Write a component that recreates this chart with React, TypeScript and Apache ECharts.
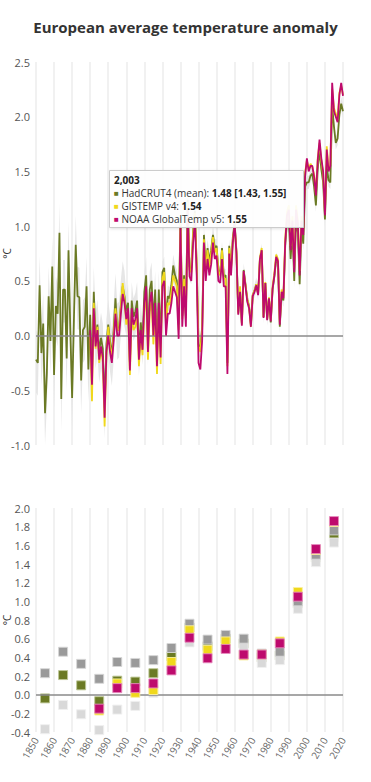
import React, { useEffect, useRef } from "react";
import * as echarts from "echarts";

// ---------- Annual data (top chart) ----------
const years = [
  1850, 1851, 1852, 1853, 1854, 1855, 1856, 1857, 1858, 1859,
  1860, 1861, 1862, 1863, 1864, 1865, 1866, 1867, 1868, 1869,
  1870, 1871, 1872, 1873, 1874, 1875, 1876, 1877, 1878, 1879,
  1880, 1881, 1882, 1883, 1884, 1885, 1886, 1887, 1888, 1889,
  1890, 1891, 1892, 1893, 1894, 1895, 1896, 1897, 1898, 1899,
  1900, 1901, 1902, 1903, 1904, 1905, 1906, 1907, 1908, 1909,
  1910, 1911, 1912, 1913, 1914, 1915, 1916, 1917, 1918, 1919,
  1920, 1921, 1922, 1923, 1924, 1925, 1926, 1927, 1928, 1929,
  1930, 1931, 1932, 1933, 1934, 1935, 1936, 1937, 1938, 1939,
  1940, 1941, 1942, 1943, 1944, 1945, 1946, 1947, 1948, 1949,
  1950, 1951, 1952, 1953, 1954, 1955, 1956, 1957, 1958, 1959,
  1960, 1961, 1962, 1963, 1964, 1965, 1966, 1967, 1968, 1969,
  1970, 1971, 1972, 1973, 1974, 1975, 1976, 1977, 1978, 1979,
  1980, 1981, 1982, 1983, 1984, 1985, 1986, 1987, 1988, 1989,
  1990, 1991, 1992, 1993, 1994, 1995, 1996, 1997, 1998, 1999,
  2000, 2001, 2002, 2003, 2004, 2005, 2006, 2007, 2008, 2009,
  2010, 2011, 2012, 2013, 2014, 2015, 2016, 2017, 2018, 2019,
  2020,
];

const hadMean = [
  -0.22, -0.25, 0.46, -0.16, 0.11, -0.71, -0.35, 0.36, -0.05, 0.63,
  -0.36, 0.27, 0.2, 0.94, -0.58, 0.42, 0.42, -0.21, 0.78, 0.05,
  -0.57, 0.15, 0.83, 0.36, 0.35, -0.41, 0.05, 0.08, 0.45, -0.31,
  0.19, -0.35, 0.4, -0.02, 0.1, -0.15, -0.02, -0.12, -0.66, -0.08,
  0.1, -0.05, -0.18, 0.05, 0.34, 0.06, 0.08, 0.28, 0.45, 0.36,
  0.22, 0.3, -0.25, 0.32, 0.17, 0.22, 0.32, -0.15, 0.12, -0.05,
  0.4, 0.55, -0.05, 0.42, 0.5, 0.12, 0.42, -0.16, 0.42, -0.08,
  0.58, 0.62, 0.12, 0.36, 0.34, 0.46, 0.64, 0.55, 0.5, 0.1,
  1.08, 0.18, 0.55, 0.18, 1.24, 0.63, 0.6, 0.95, 1.14, 0.64,
  -0.08, -0.12, 0.08, 0.92, 0.62, 0.8, 0.68, 0.78, 0.92, 0.8,
  0.82, 0.6, 0.56, 0.8, 0.54, 0.55, -0.25, 0.82, 0.62, 0.9,
  1.03, 0.77, 0.21, 0.42, 0.11, 0.6, 0.47, 0.33, 0.27, 0.1,
  0.37, 0.41, 0.47, 0.38, 0.7, 0.78, 0.17, 0.48, 0.15, 0.34,
  0.12, 0.42, 0.54, 0.7, 0.66, 0.08, 0.38, 0.32, 0.82, 1.05,
  1.06, 0.7, 0.97, 0.5, 1.06, 0.94, 0.47, 0.97, 0.84, 1.36,
  1.4, 1.4, 1.46, 1.48, 1.36, 1.19, 1.52, 1.7, 1.52, 1.4,
  1.06, 1.55, 1.42, 1.4, 2.1, 1.91, 1.76, 1.8, 2.02, 2.12,
  2.05,
];

const hadLower = [
  -0.52, -0.55, 0.16, -0.46, -0.19, -1.0, -0.65, 0.06, -0.35, 0.33,
  -0.66, -0.03, -0.1, 0.64, -0.88, 0.12, 0.12, -0.51, 0.48, -0.25,
  -0.87, -0.15, 0.53, 0.06, 0.05, -0.71, -0.25, -0.22, 0.15, -0.61,
  -0.09, -0.63, 0.12, -0.3, -0.18, -0.43, -0.3, -0.4, -0.94, -0.36,
  -0.18, -0.33, -0.46, -0.23, 0.06, -0.22, -0.2, 0.0, 0.17, 0.08,
  0.0, 0.08, -0.47, 0.1, -0.05, 0.0, 0.1, -0.37, -0.1, -0.27,
  0.18, 0.33, -0.27, 0.2, 0.28, -0.1, 0.2, -0.38, 0.2, -0.3,
  0.45, 0.49, -0.01, 0.23, 0.21, 0.33, 0.51, 0.42, 0.37, -0.03,
  0.95, 0.05, 0.42, 0.05, 1.11, 0.5, 0.47, 0.82, 1.01, 0.51,
  -0.18, -0.22, -0.02, 0.82, 0.52, 0.7, 0.58, 0.68, 0.82, 0.7,
  0.75, 0.53, 0.49, 0.73, 0.47, 0.48, -0.32, 0.75, 0.55, 0.83,
  0.97, 0.71, 0.15, 0.36, 0.05, 0.54, 0.41, 0.27, 0.21, 0.04,
  0.31, 0.35, 0.41, 0.32, 0.64, 0.72, 0.11, 0.42, 0.09, 0.28,
  0.06, 0.36, 0.48, 0.64, 0.6, 0.02, 0.32, 0.26, 0.76, 0.99,
  1.0, 0.64, 0.91, 0.44, 1.0, 0.88, 0.41, 0.91, 0.78, 1.3,
  1.34, 1.34, 1.4, 1.43, 1.3, 1.13, 1.46, 1.64, 1.46, 1.34,
  1.0, 1.49, 1.36, 1.34, 2.04, 1.85, 1.7, 1.74, 1.96, 2.06,
  1.99,
];

const hadUpper = [
  0.05, 0.02, 0.73, 0.11, 0.38, -0.44, -0.08, 0.63, 0.22, 0.9,
  -0.09, 0.54, 0.47, 1.21, -0.31, 0.69, 0.69, 0.06, 1.05, 0.32,
  -0.3, 0.42, 1.1, 0.63, 0.62, -0.14, 0.32, 0.35, 0.72, -0.04,
  0.42, -0.12, 0.63, 0.21, 0.33, 0.08, 0.21, 0.11, -0.43, 0.15,
  0.33, 0.18, 0.05, 0.28, 0.57, 0.29, 0.31, 0.51, 0.68, 0.59,
  0.39, 0.47, -0.08, 0.49, 0.34, 0.39, 0.49, 0.02, 0.29, 0.12,
  0.57, 0.72, 0.12, 0.59, 0.67, 0.29, 0.59, 0.01, 0.59, 0.09,
  0.68, 0.72, 0.22, 0.46, 0.44, 0.56, 0.74, 0.65, 0.6, 0.2,
  1.18, 0.28, 0.65, 0.28, 1.34, 0.73, 0.7, 1.05, 1.24, 0.74,
  0.0, -0.04, 0.16, 1.0, 0.7, 0.88, 0.76, 0.86, 1.0, 0.88,
  0.88, 0.66, 0.62, 0.86, 0.6, 0.61, -0.19, 0.88, 0.68, 0.96,
  1.09, 0.83, 0.27, 0.48, 0.17, 0.66, 0.53, 0.39, 0.33, 0.16,
  0.43, 0.47, 0.53, 0.44, 0.76, 0.84, 0.23, 0.54, 0.21, 0.4,
  0.18, 0.48, 0.6, 0.76, 0.72, 0.14, 0.44, 0.38, 0.88, 1.11,
  1.12, 0.76, 1.03, 0.56, 1.12, 1.0, 0.53, 1.03, 0.9, 1.42,
  1.46, 1.46, 1.52, 1.55, 1.42, 1.25, 1.58, 1.76, 1.58, 1.46,
  1.12, 1.61, 1.48, 1.46, 2.16, 1.97, 1.82, 1.86, 2.08, 2.18,
  2.11,
];

// GISTEMP v4 and NOAA GlobalTemp v5 start in 1880
const modernStartYear = 1880;

const gistemp = [
  0.0, -0.6, 0.3, -0.12, 0.08, -0.25, -0.12, -0.24, -0.83, -0.18,
  0.08, -0.1, -0.2, 0.0, 0.25, 0.05, 0.05, 0.26, 0.48, 0.33,
  0.1, 0.2, -0.36, 0.2, 0.05, 0.08, 0.2, -0.28, 0.0, -0.18,
  0.22, 0.4, -0.22, 0.22, 0.32, -0.08, 0.22, -0.35, 0.24, -0.26,
  0.52, 0.58, 0.08, 0.3, 0.28, 0.4, 0.55, 0.5, 0.45, 0.05,
  1.05, 0.15, 0.52, 0.16, 1.22, 0.6, 0.58, 0.92, 1.12, 0.62,
  -0.1, -0.15, 0.05, 0.88, 0.58, 0.78, 0.62, 0.75, 0.9, 0.76,
  0.8, 0.58, 0.55, 0.78, 0.52, 0.52, -0.28, 0.8, 0.6, 0.88,
  1.0, 0.76, 0.2, 0.45, 0.1, 0.58, 0.46, 0.33, 0.26, 0.08,
  0.37, 0.41, 0.47, 0.38, 0.71, 0.8, 0.17, 0.49, 0.15, 0.35,
  0.14, 0.45, 0.57, 0.74, 0.7, 0.12, 0.42, 0.36, 0.88, 1.13,
  1.19, 0.82, 1.09, 0.62, 1.19, 1.06, 0.59, 1.09, 0.96, 1.49,
  1.6, 1.52, 1.57, 1.54, 1.47, 1.3, 1.62, 1.76, 1.6, 1.48,
  1.12, 1.73, 1.52, 1.56, 2.25, 2.08, 2.03, 1.97, 2.22, 2.28,
  2.2,
];

const noaa = [
  0.05, -0.45, 0.25, -0.1, 0.05, -0.22, -0.1, -0.2, -0.75, -0.15,
  0.0, -0.15, -0.25, -0.05, 0.2, 0.0, 0.0, 0.2, 0.38, 0.3,
  0.15, 0.25, -0.32, 0.25, 0.1, 0.15, 0.25, -0.22, 0.05, -0.13,
  0.3, 0.45, -0.15, 0.3, 0.4, 0.0, 0.3, -0.28, 0.3, -0.2,
  0.45, 0.5, 0.0, 0.2, 0.2, 0.3, 0.45, 0.4, 0.35, -0.03,
  1.0, 0.08, 0.45, 0.08, 1.15, 0.54, 0.5, 0.85, 1.05, 0.55,
  -0.25, -0.31, -0.05, 0.85, 0.5, 0.7, 0.55, 0.65, 0.85, 0.7,
  0.73, 0.5, 0.48, 0.7, 0.45, 0.45, -0.35, 0.75, 0.55, 0.85,
  1.02, 0.75, 0.19, 0.4, 0.09, 0.59, 0.45, 0.31, 0.25, 0.08,
  0.36, 0.4, 0.46, 0.37, 0.7, 0.78, 0.16, 0.48, 0.14, 0.34,
  0.13, 0.43, 0.55, 0.72, 0.68, 0.1, 0.4, 0.34, 0.85, 1.1,
  1.15, 0.78, 1.05, 0.58, 1.15, 1.02, 0.55, 1.05, 0.92, 1.45,
  1.62, 1.5, 1.55, 1.55, 1.45, 1.28, 1.6, 1.79, 1.62, 1.5,
  1.1, 1.7, 1.5, 1.55, 2.31, 2.05, 2.0, 1.95, 2.2, 2.31,
  2.19,
];

// ---------- Decadal data (bottom chart) ----------
const decadeCenters = [
  1855, 1865, 1875, 1885, 1895, 1905, 1915, 1925, 1935,
  1945, 1955, 1965, 1975, 1985, 1995, 2005, 2015,
];
const decHadMean = [-0.04, 0.21, 0.1, -0.07, 0.15, 0.14, 0.23, 0.41, 0.72, 0.52, 0.6, 0.55, 0.4, 0.42, 0.98, 1.47, 1.69];
const decHadUpper = [0.23, 0.46, 0.33, 0.17, 0.35, 0.34, 0.37, 0.5, 0.76, 0.59, 0.64, 0.6, 0.44, 0.46, 1.0, 1.5, 1.76];
const decHadLower = [-0.37, -0.11, -0.21, -0.38, -0.16, -0.12, 0.02, 0.3, 0.56, 0.42, 0.5, 0.51, 0.34, 0.37, 0.92, 1.42, 1.63];
const decGistemp = [null, null, null, -0.17, 0.12, 0.02, 0.05, 0.35, 0.69, 0.48, 0.57, 0.42, 0.43, 0.57, 1.1, 1.55, 1.85];
const decNoaa = [null, null, null, -0.15, 0.07, 0.07, 0.12, 0.26, 0.61, 0.39, 0.49, 0.43, 0.43, 0.55, 1.05, 1.56, 1.86];

const tooltipYear = 2003;

const C_HAD = "#6b7a24";
const C_GIS = "#f0d81c";
const C_NOAA = "#be0a6d";
const C_UP = "#9a9a9a";
const C_LOW = "#d9d9d9";
const FONT = "'Open Sans', 'Liberation Sans', Arial, sans-serif";

export default function App() {
  const ref = useRef<HTMLDivElement>(null);

  useEffect(() => {
    document.body.style.margin = "0";
    const chart = echarts.init(ref.current!, null, { renderer: "svg" });

    const modernYears = years.filter((y) => y >= modernStartYear);
    const pair = (xs: number[], ys: (number | null)[]) => xs.map((x, i) => [x, ys[i]]);

    const ti = years.indexOf(tooltipYear);
    const mi = modernYears.indexOf(tooltipYear);
    const f2 = (v: number) => v.toFixed(2);
    const tipLines = [
      `{b|${tooltipYear.toLocaleString("en-US")}}`,
      `{mh|■} HadCRUT4 (mean): {b|${f2(hadMean[ti])} [${f2(hadLower[ti])}, ${f2(hadUpper[ti])}]}`,
      `{mg|■} GISTEMP v4: {b|${f2(gistemp[mi])}}`,
      `{mn|■} NOAA GlobalTemp v5: {b|${f2(noaa[mi])}}`,
    ];
    const TIP_FS = 10;
    const tipRich = {
      b: { fontWeight: "bold", fontSize: TIP_FS, fontFamily: FONT, fill: "#222", lineHeight: 11 },
      mh: { fill: C_HAD, fontSize: 8, fontFamily: FONT, lineHeight: 11 },
      mg: { fill: C_GIS, fontSize: 8, fontFamily: FONT, lineHeight: 11 },
      mn: { fill: C_NOAA, fontSize: 8, fontFamily: FONT, lineHeight: 11 },
    };

    const yLabel = {
      color: "#555",
      fontSize: 11,
      fontFamily: FONT,
      margin: 6,
      formatter: (v: number) => v.toFixed(1),
    };
    const yName = {
      name: "°C",
      nameLocation: "middle",
      nameGap: 24,
      nameMoveOverlap: false,
      nameTextStyle: { color: "#333", fontSize: 10, fontFamily: FONT },
    };
    const vSplit = { show: true, lineStyle: { color: "#f1f1f1", width: 2 } };
    const zeroLine = {
      silent: true,
      symbol: "none",
      label: { show: false },
      lineStyle: { color: "#8a8a8a", width: 1.5, type: "solid" },
      data: [{ yAxis: 0 }],
    };
    const sq = (color: string, border: string) => ({
      type: "scatter",
      xAxisIndex: 1,
      yAxisIndex: 1,
      symbol: "rect",
      symbolSize: 9,
      itemStyle: { color, borderColor: border, borderWidth: 1, opacity: 1 },
    });

    chart.setOption({
      animation: false,
      textStyle: { fontFamily: FONT },
      title: {
        text: "European average temperature anomaly",
        left: "center",
        top: 14,
        textStyle: { fontFamily: FONT, fontWeight: "bold", fontSize: 15, color: "#333" },
      },
      grid: [
        { left: 36, right: 28, top: 62, height: 383, outerBoundsMode: "none", containLabel: false },
        { left: 36, right: 28, top: 508, height: 224, outerBoundsMode: "none", containLabel: false },
      ],
      xAxis: [
        {
          type: "value",
          gridIndex: 0,
          min: 1850,
          max: 2020,
          interval: 10,
          axisLabel: { show: false },
          axisTick: { show: false },
          axisLine: { show: false },
          splitLine: vSplit,
        },
        {
          type: "value",
          gridIndex: 1,
          min: 1850,
          max: 2020,
          interval: 10,
          axisLabel: {
            rotate: 60,
            color: "#666",
            fontSize: 10,
            fontFamily: FONT,
            margin: 6,
            formatter: (v: number) => String(v),
          },
          axisTick: { show: false },
          axisLine: { show: false },
          splitLine: vSplit,
        },
      ],
      yAxis: [
        {
          type: "value",
          gridIndex: 0,
          min: -1,
          max: 2.5,
          interval: 0.5,
          axisLabel: yLabel,
          axisTick: { show: false },
          axisLine: { show: false },
          splitLine: { show: false },
          ...yName,
        },
        {
          type: "value",
          gridIndex: 1,
          min: -0.4,
          max: 2.0,
          interval: 0.2,
          axisLabel: yLabel,
          axisTick: { show: false },
          axisLine: { show: false },
          splitLine: { show: false },
          ...yName,
        },
      ],
      series: [
        {
          type: "custom",
          name: "HadCRUT4 range",
          xAxisIndex: 0,
          yAxisIndex: 0,
          z: 1,
          clip: true,
          silent: true,
          data: years.map((y, i) => [y, hadLower[i], hadUpper[i]]),
          encode: { x: 0, y: [1, 2] },
          renderItem: (params: any, api: any) => {
            if (params.dataIndex !== 0) return null;
            const top = years.map((y, i) => api.coord([y, hadUpper[i]]));
            const bot = years.map((y, i) => api.coord([y, hadLower[i]])).reverse();
            return {
              type: "polygon",
              shape: { points: top.concat(bot) },
              style: { fill: "#e6e6e6" },
            };
          },
          markLine: zeroLine,
        },
        {
          type: "line",
          name: "HadCRUT4 (mean)",
          xAxisIndex: 0,
          yAxisIndex: 0,
          data: pair(years, hadMean),
          showSymbol: false,
          symbol: "none",
          lineStyle: { color: C_HAD, width: 1.8 },
          z: 3,
        },
        {
          type: "line",
          name: "GISTEMP v4",
          xAxisIndex: 0,
          yAxisIndex: 0,
          data: pair(modernYears, gistemp),
          showSymbol: false,
          symbol: "none",
          lineStyle: { color: C_GIS, width: 1.8 },
          z: 4,
        },
        {
          type: "line",
          name: "NOAA GlobalTemp v5",
          xAxisIndex: 0,
          yAxisIndex: 0,
          data: pair(modernYears, noaa),
          showSymbol: false,
          symbol: "none",
          lineStyle: { color: C_NOAA, width: 1.8 },
          z: 5,
        },
        {
          ...sq(C_HAD, "rgba(190,200,150,0.9)"),
          name: "HadCRUT4 decadal mean",
          data: pair(decadeCenters, decHadMean),
          markLine: zeroLine,
          z: 3,
        },
        { ...sq(C_LOW, "rgba(240,240,240,0.9)"), name: "HadCRUT4 lower", data: pair(decadeCenters, decHadLower), z: 4 },
        { ...sq(C_UP, "rgba(215,215,215,0.9)"), name: "HadCRUT4 upper", data: pair(decadeCenters, decHadUpper), z: 4 },
        { ...sq(C_GIS, "rgba(250,240,160,0.9)"), name: "GISTEMP decadal", data: pair(decadeCenters, decGistemp), z: 5 },
        { ...sq(C_NOAA, "rgba(230,140,190,0.9)"), name: "NOAA decadal", data: pair(decadeCenters, decNoaa), z: 6 },
      ],
      graphic: [
        {
          type: "rect",
          z: 100,
          shape: { x: 109.5, y: 170.5, width: 194, height: 57 },
          style: {
            fill: "rgba(255,255,255,0.93)",
            stroke: "#cccccc",
            lineWidth: 1,
            shadowBlur: 3,
            shadowOffsetX: 1,
            shadowOffsetY: 1,
            shadowColor: "rgba(0,0,0,0.12)",
          },
        },
        ...tipLines.map((t, k) => ({
          type: "text",
          z: 101,
          x: 114,
          y: 179.5 + k * 13,
          style: {
            text: t,
            fill: "#333",
            fontSize: TIP_FS,
            fontFamily: FONT,
            lineHeight: 11,
            verticalAlign: "middle",
            rich: tipRich,
          },
        })),
      ],
    });

    return () => chart.dispose();
  }, []);

  return <div ref={ref} style={{ width: 371, height: 782 }} />;
}
